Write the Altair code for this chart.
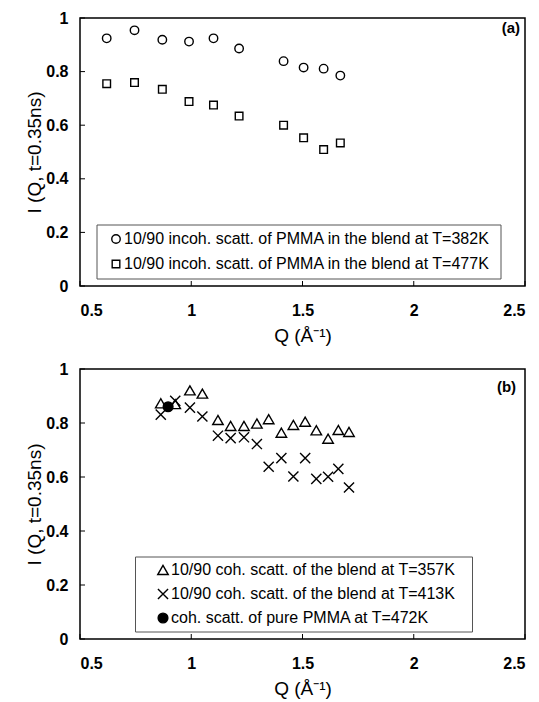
import altair as alt
import pandas as pd

FONT = "Liberation Sans, Arial, Helvetica, sans-serif"

# ---------------- data ----------------
x_ticks = [0.5, 1.0, 1.5, 2.0, 2.5]
y_ticks = [0.0, 0.2, 0.4, 0.6, 0.8, 1.0]

# panel (a)
q_a = [0.62, 0.745, 0.87, 0.99, 1.10, 1.215, 1.415, 1.505, 1.595, 1.67]
i_a_382 = [0.924, 0.954, 0.919, 0.912, 0.924, 0.886, 0.839, 0.815, 0.811, 0.785]
i_a_477 = [0.755, 0.759, 0.734, 0.688, 0.675, 0.634, 0.600, 0.553, 0.509, 0.534]
labels_a = [
    "10/90 incoh. scatt. of PMMA in the blend at T=382K",
    "10/90 incoh. scatt. of PMMA in the blend at T=477K",
]

# panel (b)
q_b = [0.863, 0.928, 0.994, 1.050, 1.120, 1.177, 1.237, 1.295, 1.348, 1.405,
       1.459, 1.512, 1.562, 1.615, 1.661, 1.709]
i_b_357 = [0.873, 0.870, 0.921, 0.909, 0.811, 0.789, 0.789, 0.798, 0.814, 0.764,
           0.793, 0.805, 0.773, 0.742, 0.774, 0.767]
i_b_413 = [0.831, 0.882, 0.857, 0.824, 0.753, 0.744, 0.747, 0.722, 0.638, 0.670,
           0.602, 0.670, 0.593, 0.601, 0.630, 0.561]
q_pure = [0.896]
i_pure = [0.860]
labels_b = [
    "10/90 coh. scatt. of the blend at T=357K",
    "10/90 coh. scatt. of the blend at T=413K",
    "coh. scatt. of pure PMMA at T=472K",
]
panel_tags = ["(a)", "(b)"]

x_title = "Q (Å⁻¹)"
y_title = "I (Q, t=0.35ns)"

# ---------------- tables ----------------
df_a = pd.concat([
    pd.DataFrame({"Q": q_a, "I": i_a_382, "series": labels_a[0]}),
    pd.DataFrame({"Q": q_a, "I": i_a_477, "series": labels_a[1]}),
])
df_b = pd.concat([
    pd.DataFrame({"Q": q_b, "I": i_b_357, "series": labels_b[0]}),
    pd.DataFrame({"Q": q_b, "I": i_b_413, "series": labels_b[1]}),
    pd.DataFrame({"Q": q_pure, "I": i_pure, "series": labels_b[2]}),
])
df_xt = pd.DataFrame({"t": x_ticks})
df_yt = pd.DataFrame({"t": y_ticks})

CROSS = "M-1,-1L1,1M-1,1L1,-1"
W = 445


def make_panel(df, labels, shapes, fills, sizes, tag, tag_xy, H, legend_kw, box):
    xs = alt.Scale(domain=[0.5, 2.5], nice=False, zero=False)
    ys = alt.Scale(domain=[0, 1], nice=False)
    x_axis = alt.Axis(values=x_ticks, format="~g", ticks=False, domain=False,
                      grid=False, labelFont=FONT, labelFontSize=16,
                      labelFontWeight="bold", labelColor="black",
                      labelPadding=16, title=x_title, titleFont=FONT,
                      titleFontSize=19, titleFontWeight="normal",
                      titleColor="black", titlePadding=8)
    y_axis = alt.Axis(values=y_ticks, format="~g", ticks=False, domain=False,
                      grid=False, labelFont=FONT, labelFontSize=16,
                      labelFontWeight="bold", labelColor="black",
                      labelPadding=12, title=y_title, titleFont=FONT,
                      titleFontSize=19, titleFontWeight="normal",
                      titleColor="black", titlePadding=1)
    legend = alt.Legend(title=None, orient="none", labelFont=FONT,
                        labelFontSize=16, labelColor="black", labelLimit=600,
                        symbolStrokeColor="black", symbolStrokeWidth=1.4,
                        labelOffset=0, **legend_kw)
    black = ["black"] * len(labels)
    # legend frame (decoration, pixel box inside the plot area)
    frame = alt.Chart(pd.DataFrame({"k": [0]})).mark_rect(
        fill="white", stroke="#555555", strokeWidth=1).encode(
        x=alt.value(box[0]), x2=alt.value(box[1]),
        y=alt.value(box[2]), y2=alt.value(box[3]))
    pts = alt.Chart(df).mark_point(filled=True, strokeWidth=1.4,
                                   opacity=1).encode(
        x=alt.X("Q:Q", scale=xs, axis=x_axis),
        y=alt.Y("I:Q", scale=ys, axis=y_axis),
        shape=alt.Shape("series:N", scale=alt.Scale(domain=labels, range=shapes),
                        legend=legend),
        fill=alt.Fill("series:N", scale=alt.Scale(domain=labels, range=fills),
                      legend=legend),
        stroke=alt.Stroke("series:N", scale=alt.Scale(domain=labels, range=black),
                          legend=legend),
        size=alt.Size("series:N", scale=alt.Scale(domain=labels, range=sizes),
                      legend=legend),
    )
    xt = alt.Chart(df_xt).mark_rule(color="black", strokeWidth=1).encode(
        x=alt.X("t:Q", scale=xs), y=alt.value(H), y2=alt.value(H - 5))
    yt = alt.Chart(df_yt).mark_rule(color="black", strokeWidth=1).encode(
        y=alt.Y("t:Q", scale=ys), x=alt.value(0), x2=alt.value(5))
    txt = alt.Chart(pd.DataFrame({"t": [tag]})).mark_text(
        align="right", baseline="middle", font=FONT, fontSize=15,
        fontWeight="bold", color="black").encode(
        x=alt.datum(tag_xy[0], scale=xs), y=alt.datum(tag_xy[1], scale=ys),
        text="t:N")
    return alt.layer(frame, pts, xt, yt, txt).properties(width=W, height=H)


top = make_panel(
    df_a, labels_a, ["circle", "square"], ["white", "white"], [72, 58],
    panel_tags[0], (2.478, 0.963), 268,
    dict(legendX=19, legendY=207, padding=6, symbolOffset=3, rowPadding=9),
    (17, 421, 207, 261),
)
bottom = make_panel(
    df_b, labels_b, ["triangle-up", CROSS, "circle"], ["white", "white", "black"],
    [110, 95, 80],
    panel_tags[1], (2.46, 0.934), 270,
    dict(legendX=56, legendY=188, padding=5, symbolOffset=14, rowPadding=8),
    (55.5, 392.5, 188, 263),
)

chart = alt.vconcat(top, bottom, spacing=14).resolve_scale(
    shape="independent", fill="independent", size="independent",
    stroke="independent"
).configure_view(stroke="black", strokeWidth=1.5).properties(
    padding={"left": 17, "top": 1, "right": 0, "bottom": 0},
    background="white",
)

chart.save("out.html", embed_options={"renderer": "svg", "actions": False})
